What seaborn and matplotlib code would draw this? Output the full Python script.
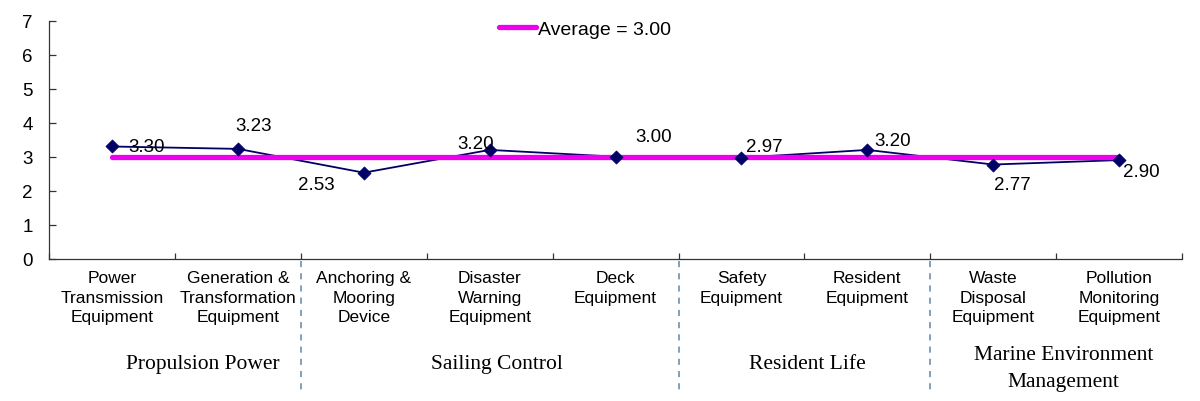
import numpy as np
import pandas as pd
import matplotlib
matplotlib.use("Agg")
import matplotlib.pyplot as plt
import matplotlib.transforms as mtransforms
import seaborn as sns

# chart values
categories = ["Power\nTransmission\nEquipment", "Generation &\nTransformation\nEquipment",
              "Anchoring &\nMooring\nDevice", "Disaster\nWarning\nEquipment", "Deck\nEquipment",
              "Safety\nEquipment", "Resident\nEquipment", "Waste\nDisposal\nEquipment",
              "Pollution\nMonitoring\nEquipment"]
scores = [3.30, 3.23, 2.53, 3.20, 3.00, 2.97, 3.20, 2.77, 2.90]
average = 3.00
groups = ["Propulsion Power", "Sailing Control", "Resident Life", "Marine Environment\nManagement"]
group_sizes = [2, 3, 2, 2]
y_ticks = [0, 1, 2, 3, 4, 5, 6, 7]

# label placement (pixels) - hand tuned to match the original
label_offsets = [(34, 0), (16, 23), (-48, -12), (-14, 6), (38, 20),
                 (23, 11), (25, 9), (19, -20), (22, -11)]
group_label_x = [0.72, 3.06, 5.52, 7.56]

sns.set_theme(style="white")
plt.rcParams["font.family"] = ["Liberation Sans", "DejaVu Sans"]
plt.rcParams["text.color"] = "black"
plt.rcParams["xtick.color"] = "black"
plt.rcParams["ytick.color"] = "black"

df = pd.DataFrame({"category": categories, "score": scores})
df["pos"] = np.arange(len(df))
df["avg"] = average

fig = plt.figure(figsize=(12, 4.02), dpi=100)
ax = fig.add_axes([0.041, 0.354, 0.944, 0.592])

navy = "#000066"
magenta = "#ee00ee"

sns.lineplot(data=df, x="pos", y="score", color=navy, linewidth=1.3, ax=ax, zorder=2)
sns.lineplot(data=df, x="pos", y="avg", color=magenta, linewidth=3.8, ax=ax, zorder=3,
             label=f"Average = {average:.2f}")
sns.scatterplot(data=df, x="pos", y="score", color=navy, marker="D", s=45,
                edgecolor=navy, linewidth=0.5, ax=ax, zorder=4, legend=False)

for i, (v, off) in enumerate(zip(scores, label_offsets)):
    ax.annotate(f"{v:.2f}", (i, v), xytext=off, textcoords="offset pixels",
                ha="center", va="center", fontsize=13.5, color="black", zorder=5)

ax.set_xlim(-0.5, len(categories) - 0.5)
ax.set_ylim(0, 7)
ax.set_yticks(y_ticks)
ax.set_xlabel("")
ax.set_ylabel("")

# boundary ticks (major) and centred labels (minor)
ax.set_xticks(np.arange(-0.5, len(categories)), [""] * (len(categories) + 1))
ax.set_xticks(np.arange(len(categories)), categories, minor=True)
ax.tick_params(axis="x", which="major", bottom=True, direction="in", length=4,
               width=0.9, color="#333333")
ax.tick_params(axis="x", which="minor", bottom=True, length=0, pad=8, labelsize=12.5,
               labelcolor="black")
ax.tick_params(axis="y", left=True, direction="in", length=5, width=0.9, color="#333333",
               labelsize=13.5, pad=12, labelcolor="black")
for lab in ax.get_xticklabels(minor=True):
    lab.set_linespacing(1.4)

sns.despine(ax=ax)
for side in ["left", "bottom"]:
    ax.spines[side].set_color("#333333")
    ax.spines[side].set_linewidth(0.9)

# group separators and group names
trans = mtransforms.blended_transform_factory(ax.transData, ax.transAxes)
edges = np.cumsum(group_sizes)[:-1] - 0.5
for e in edges:
    ax.plot([e, e], [-0.01, -0.555], transform=trans, clip_on=False,
            color="#5f86ad", linestyle=(0, (4, 4)), linewidth=1.1)
for name, gx in zip(groups, group_label_x):
    yy = -0.46 if "\n" in name else -0.44
    ax.text(gx, yy, name, transform=trans, ha="center", va="center",
            fontsize=15.5, family=["Liberation Serif", "DejaVu Serif"], linespacing=1.55)

ax.legend(loc="center left", bbox_to_anchor=(0.416, 0.925), bbox_transform=fig.transFigure,
          frameon=False, fontsize=14, handlelength=1.9, handletextpad=0.1,
          borderpad=0, borderaxespad=0)

fig.savefig("out.png", dpi=100)
